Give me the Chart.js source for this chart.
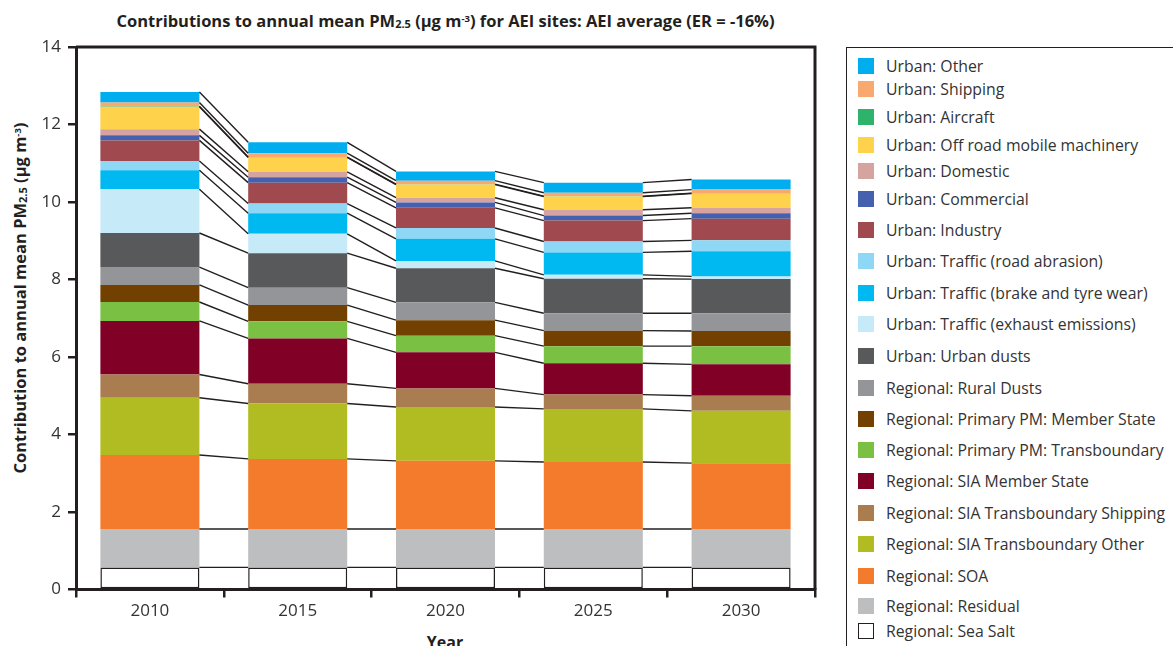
<!DOCTYPE html>
<html>
<head>
<meta charset="utf-8">
<script src="https://cdn.jsdelivr.net/npm/chart.js@4.4.0/dist/chart.umd.min.js"></script>
<style>
    body { margin: 0; width: 1173px; height: 646px; overflow: hidden; background: #fff; position: relative; font-family: "Open Sans", sans-serif; color: #231f20; }
    #chart-wrap { position: absolute; left: 0; top: 0; width: 830px; height: 646px; }
    #chart-title { position: absolute; top: 9px; left: 76px; width: 739px; text-align: center; font-weight: bold; font-size: 16.5px; white-space: nowrap; }
    #y-title { position: absolute; left: 19px; top: 298px; transform: translate(-50%, -50%) rotate(-90deg); font-weight: bold; font-size: 16.5px; white-space: nowrap; }
    #x-title { position: absolute; left: 445px; top: 631px; transform: translateX(-50%); font-weight: bold; font-size: 16px; }
    .sub { font-size: 11px; position: relative; top: 1px; }
    .sup { font-size: 9.5px; position: relative; top: -5px; }
    #legend { position: absolute; left: 846px; top: 47px; width: 360px; height: 640px; border: 1.5px solid #231f20; box-sizing: border-box; }
    .leg-item { position: absolute; left: 11px; height: 20px; display: flex; align-items: center; font-size: 15.8px; color: #333; white-space: nowrap; }
    .leg-box { width: 16px; height: 16px; margin-right: 12px; box-sizing: border-box; flex: none; }
</style>
</head>
<body>
<div id="chart-title">Contributions to annual mean PM<span class="sub">2.5</span> (µg m<span class="sup">-3</span>) for AEI sites: AEI average (ER = -16%)</div>
<div id="y-title">Contribution to annual mean PM<span class="sub">2.5</span> (µg m<span class="sup">-3</span>)</div>
<div id="x-title">Year</div>
<div id="chart-wrap"><canvas id="pmChart"></canvas></div>
<div id="legend"></div>

<script>
// categories
const years = ['2010', '2015', '2020', '2025', '2030'];

// contributions (µg m-3), bottom of stack first
const seaSalt          = [0.57, 0.57, 0.57, 0.57, 0.57];
const residual         = [0.99, 0.99, 0.99, 0.99, 0.99];
const soa              = [1.91, 1.81, 1.76, 1.73, 1.70];
const siaTbOther       = [1.48, 1.43, 1.39, 1.37, 1.35];
const siaTbShipping    = [0.60, 0.51, 0.48, 0.37, 0.39];
const siaMemberState   = [1.38, 1.17, 0.93, 0.81, 0.81];
const ppmTransboundary = [0.49, 0.44, 0.43, 0.44, 0.47];
const ppmMemberState   = [0.44, 0.42, 0.40, 0.40, 0.39];
const ruralDusts       = [0.46, 0.45, 0.46, 0.45, 0.46];
const urbanDusts       = [0.88, 0.89, 0.88, 0.89, 0.88];
const trafficExhaust   = [1.13, 0.50, 0.19, 0.10, 0.07];
const trafficBrake     = [0.49, 0.53, 0.57, 0.58, 0.65];
const trafficRoad      = [0.24, 0.25, 0.28, 0.28, 0.28];
const industry         = [0.53, 0.54, 0.52, 0.54, 0.56];
const commercial       = [0.13, 0.14, 0.14, 0.13, 0.14];
const domestic         = [0.16, 0.14, 0.12, 0.15, 0.14];
const offRoad          = [0.58, 0.37, 0.34, 0.34, 0.37];
const aircraft         = [0.01, 0.01, 0.01, 0.01, 0.01];
const shipping         = [0.10, 0.10, 0.09, 0.09, 0.09];
const urbanOther       = [0.27, 0.28, 0.24, 0.26, 0.26];

// y-axis ticks
const yTicks = [0, 2, 4, 6, 8, 10, 12, 14];

// series, bottom first
const series = [
    { label: 'Regional: Sea Salt', data: seaSalt, color: '#ffffff', border: true },
    { label: 'Regional: Residual', data: residual, color: '#bcbec0' },
    { label: 'Regional: SOA', data: soa, color: '#f47b2b' },
    { label: 'Regional: SIA Transboundary Other', data: siaTbOther, color: '#b0bc21' },
    { label: 'Regional: SIA Transboundary Shipping', data: siaTbShipping, color: '#a97d50' },
    { label: 'Regional: SIA Member State', data: siaMemberState, color: '#800026' },
    { label: 'Regional: Primary PM: Transboundary', data: ppmTransboundary, color: '#7ac143' },
    { label: 'Regional: Primary PM: Member State', data: ppmMemberState, color: '#724000' },
    { label: 'Regional: Rural Dusts', data: ruralDusts, color: '#939598' },
    { label: 'Urban: Urban dusts', data: urbanDusts, color: '#58595b' },
    { label: 'Urban: Traffic (exhaust emissions)', data: trafficExhaust, color: '#c7eaf9' },
    { label: 'Urban: Traffic (brake and tyre wear)', data: trafficBrake, color: '#00b9f0' },
    { label: 'Urban: Traffic (road abrasion)', data: trafficRoad, color: '#8ed8f5' },
    { label: 'Urban: Industry', data: industry, color: '#a04a4f' },
    { label: 'Urban: Commercial', data: commercial, color: '#4460ae' },
    { label: 'Urban: Domestic', data: domestic, color: '#d5a3a0' },
    { label: 'Urban: Off road mobile machinery', data: offRoad, color: '#ffd24c' },
    { label: 'Urban: Aircraft', data: aircraft, color: '#2db36a' },
    { label: 'Urban: Shipping', data: shipping, color: '#f9a870' },
    { label: 'Urban: Other', data: urbanOther, color: '#00aeef' }
];

// legend row centres (px from top of legend box), top entry first
const legendRowY = [18, 41, 69, 97, 123, 151, 182, 213, 245, 276, 308, 340, 371, 402, 433, 465, 496, 528, 558, 583];

const ink = '#231f20';

// draws the joining lines between bars and the top/right frame
const connectorPlugin = {
    id: 'connectors',
    afterDatasetsDraw(chart) {
        const ctx = chart.ctx;
        ctx.save();
        ctx.strokeStyle = ink;
        ctx.lineWidth = 1.4;
        chart.data.datasets.forEach((ds, d) => {
            const bars = chart.getDatasetMeta(d).data;
            for (let i = 0; i < bars.length - 1; i++) {
                const a = bars[i], b = bars[i + 1];
                ctx.beginPath();
                ctx.moveTo(a.x + a.width / 2, a.y);
                ctx.lineTo(b.x - b.width / 2, b.y);
                ctx.stroke();
            }
        });
        const { left, top, right, bottom } = chart.chartArea;
        ctx.lineWidth = 3;
        ctx.beginPath();
        ctx.moveTo(left, top);
        ctx.lineTo(right, top);
        ctx.lineTo(right, bottom);
        ctx.stroke();
        ctx.restore();
    }
};

const ctx = document.getElementById('pmChart').getContext('2d');
new Chart(ctx, {
    type: 'bar',
    data: {
        labels: years,
        datasets: series.map(s => ({
            label: s.label,
            data: s.data,
            backgroundColor: s.color,
            borderColor: ink,
            borderWidth: s.border ? 1.5 : 0,
            borderSkipped: false,
            barPercentage: 0.67,
            categoryPercentage: 1.0
        }))
    },
    options: {
        responsive: true,
        maintainAspectRatio: false,
        animation: false,
        layout: { padding: { top: 47, right: 15, left: 0, bottom: 0 } },
        plugins: {
            legend: { display: false },
            tooltip: { enabled: false }
        },
        scales: {
            x: {
                stacked: true,
                afterFit: (scale) => { scale.height = 56.5; },
                border: { display: true, width: 3, color: ink },
                grid: { offset: true, drawOnChartArea: false, drawTicks: true, tickLength: 8, lineWidth: 2.5, color: ink },
                ticks: { color: '#333', font: { family: 'Open Sans', size: 17 }, padding: 3 }
            },
            y: {
                stacked: true,
                min: 0,
                max: 14,
                afterFit: (scale) => { scale.width = 76; },
                afterBuildTicks: (scale) => { scale.ticks = yTicks.map(v => ({ value: v })); },
                border: { display: true, width: 3, color: ink },
                grid: { drawOnChartArea: false, drawTicks: true, tickLength: 8, lineWidth: 2.5, color: ink },
                ticks: { color: '#333', font: { family: 'Open Sans', size: 17 }, padding: 7 }
            }
        }
    },
    plugins: [connectorPlugin]
});

// legend, top of stack first
const legendEl = document.getElementById('legend');
series.slice().reverse().forEach((s, i) => {
    const item = document.createElement('div');
    item.className = 'leg-item';
    item.style.top = (legendRowY[i] - 10) + 'px';
    const box = document.createElement('div');
    box.className = 'leg-box';
    box.style.background = s.color;
    if (s.border) box.style.border = '1.5px solid ' + ink;
    const text = document.createElement('span');
    text.textContent = s.label;
    item.appendChild(box);
    item.appendChild(text);
    legendEl.appendChild(item);
});
</script>
</body>
</html>
